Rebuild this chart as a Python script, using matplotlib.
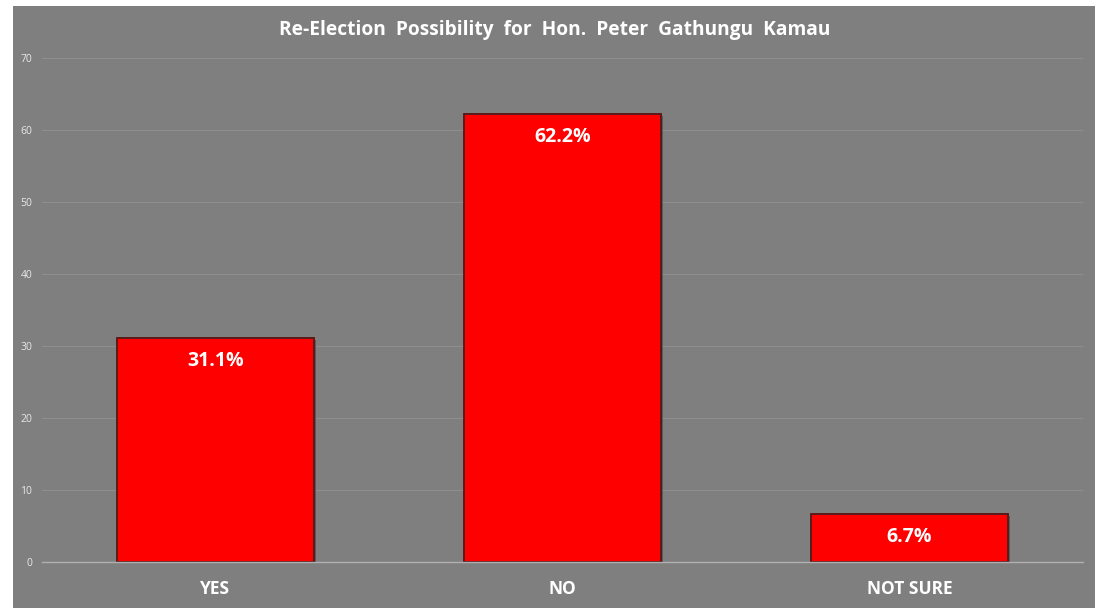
import matplotlib
matplotlib.use("Agg")
import matplotlib.pyplot as plt
from matplotlib.patches import Rectangle
import matplotlib.patheffects as pe

categories = ["YES", "NO", "NOT SURE"]
values = [31.1, 62.2, 6.7]
labels = ["31.1%", "62.2%", "6.7%"]
yticks = [0, 10, 20, 30, 40, 50, 60, 70]
title = "Re-Election  Possibility  for  Hon.  Peter  Gathungu  Kamau"

plt.rcParams['font.family'] = ['Open Sans', 'DejaVu Sans']

fig = plt.figure(figsize=(11.07, 6.08), dpi=100)
fig.patch.set_facecolor("white")
bg = Rectangle((13/1107, 0), (1095-13)/1107, (608-6)/608, transform=fig.transFigure,
               facecolor="#7f7f7f", edgecolor="none", zorder=-10)
fig.add_artist(bg)

ax = fig.add_axes([42/1107, 46/608, (1083-42)/1107, (562-58)/608])
ax.set_zorder(1)
ax.set_facecolor("none")
x = list(range(len(categories)))
bars = ax.bar(x, values, width=0.57, color="#ff0000", edgecolor="#5a1a1a", linewidth=1.4,
              zorder=3,
              path_effects=[pe.SimplePatchShadow(offset=(1.5, -1.5), shadow_rgbFace="#404040", alpha=0.6),
                            pe.Normal()])
ax.set_xlim(-0.5, 2.5)
ax.set_ylim(0, 70)
ax.set_yticks(yticks)
ax.set_yticklabels([str(t) for t in yticks], color="#e8e8e8", fontsize=7.5)
ax.set_xticks(x)
ax.set_xticklabels(categories, color="white", fontsize=12.5, fontweight="bold")
ax.tick_params(axis="both", length=0)
ax.tick_params(axis="x", pad=13)
ax.tick_params(axis="y", pad=7)
ax.grid(axis="y", color="#8e8e8e", linewidth=0.8, zorder=1)
for s in ["top", "right", "left"]:
    ax.spines[s].set_visible(False)
ax.spines["bottom"].set_color("#b0b0b0")
ax.spines["bottom"].set_linewidth(1.0)
ax.spines["bottom"].set_zorder(4)

for xi, v, lab in zip(x, values, labels):
    ax.annotate(lab, (xi, v), xytext=(0, -23), textcoords="offset pixels",
                ha="center", va="center", color="white", fontsize=14, fontweight="bold", zorder=5)

fig.text(555/1107, 1 - 30/608, title, ha="center", va="center", color="white",
         fontsize=13.8, fontweight="bold")

fig.savefig("out.png", dpi=100)
